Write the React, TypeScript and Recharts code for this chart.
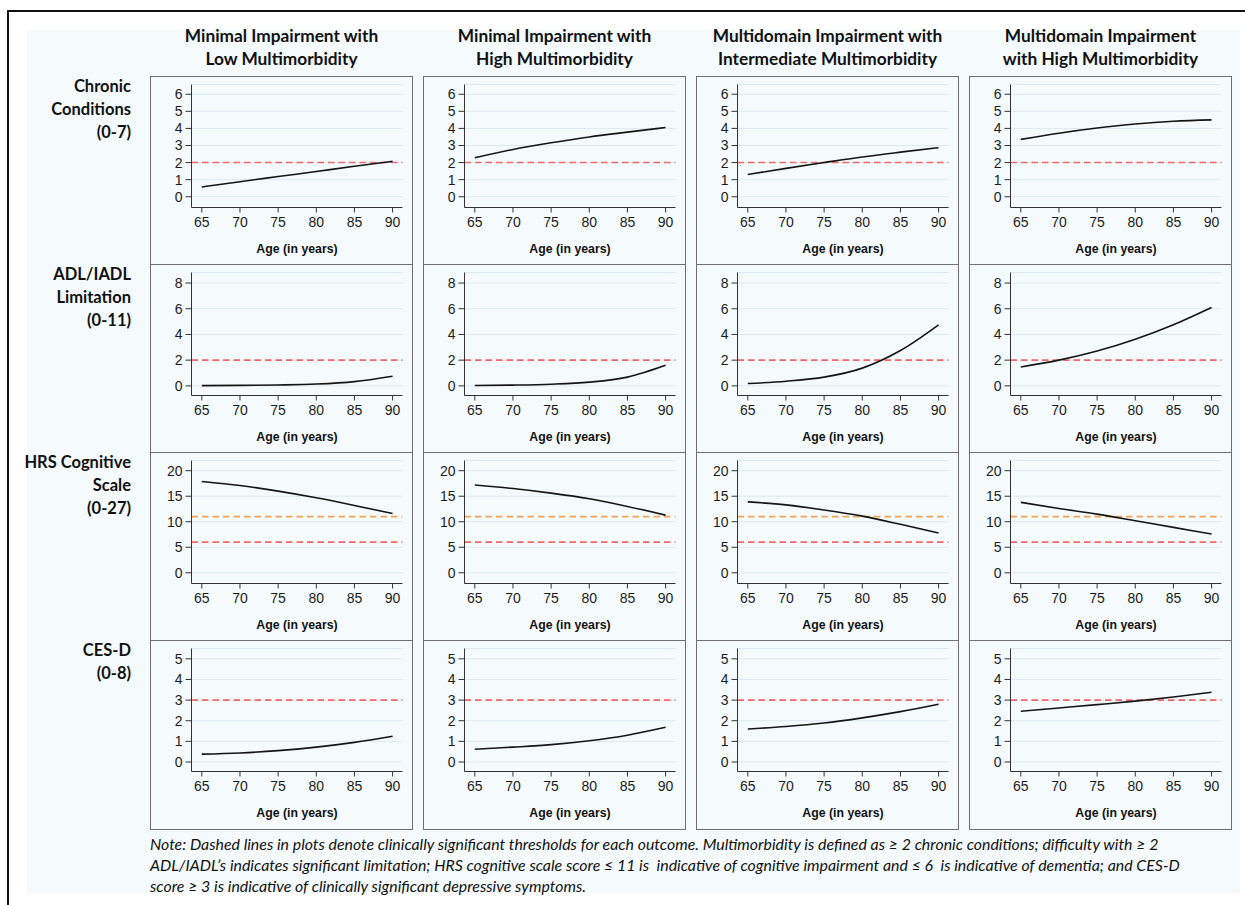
import React from 'react';
import {
  LineChart,
  Line,
  XAxis,
  YAxis,
  CartesianGrid,
  ReferenceLine,
} from 'recharts';

// ---------------------------------------------------------------------------
// Data
// ---------------------------------------------------------------------------

const AGES = [65, 70, 75, 80, 85, 90];
const AGE_TICKS = [65, 70, 75, 80, 85, 90];

const COLUMN_TITLES = [
  ['Minimal Impairment with', 'Low Multimorbidity'],
  ['Minimal Impairment with', 'High Multimorbidity'],
  ['Multidomain Impairment with', 'Intermediate Multimorbidity'],
  ['Multidomain Impairment', 'with High Multimorbidity'],
];

const ROW_TITLES = [
  ['Chronic', 'Conditions', '(0-7)'],
  ['ADL/IADL', 'Limitation', '(0-11)'],
  ['HRS Cognitive', 'Scale', '(0-27)'],
  ['CES-D', '(0-8)'],
];

// one list per column (class), values at AGES
const CHRONIC = [
  [0.57, 0.88, 1.18, 1.48, 1.78, 2.07],
  [2.28, 2.77, 3.16, 3.5, 3.78, 4.05],
  [1.3, 1.66, 2.0, 2.33, 2.61, 2.87],
  [3.36, 3.72, 4.02, 4.26, 4.42, 4.5],
];

const ADL = [
  [0.02, 0.04, 0.07, 0.14, 0.33, 0.75],
  [0.03, 0.06, 0.13, 0.29, 0.68, 1.6],
  [0.18, 0.36, 0.68, 1.38, 2.75, 4.75],
  [1.47, 2.0, 2.71, 3.63, 4.76, 6.1],
];

const HRS = [
  [17.9, 17.1, 16.0, 14.7, 13.2, 11.6],
  [17.2, 16.5, 15.6, 14.5, 13.0, 11.3],
  [13.9, 13.3, 12.3, 11.1, 9.5, 7.8],
  [13.8, 12.6, 11.5, 10.2, 8.9, 7.6],
];

const CESD = [
  [0.38, 0.44, 0.55, 0.72, 0.95, 1.25],
  [0.62, 0.72, 0.84, 1.03, 1.3, 1.68],
  [1.6, 1.72, 1.89, 2.14, 2.44, 2.8],
  [2.46, 2.62, 2.78, 2.95, 3.15, 3.38],
];

const CHRONIC_TICKS = [0, 1, 2, 3, 4, 5, 6];
const ADL_TICKS = [0, 2, 4, 6, 8];
const HRS_TICKS = [0, 5, 10, 15, 20];
const CESD_TICKS = [0, 1, 2, 3, 4, 5];

const CHRONIC_CUTS = [2];
const ADL_CUTS = [2];
const HRS_CUTS = [11, 6];
const CESD_CUTS = [3];

const NOTE_LINES = [
  'Note: Dashed lines in plots denote clinically significant thresholds for each outcome. Multimorbidity is defined as ≥ 2 chronic conditions; difficulty with ≥ 2',
  'ADL/IADL’s indicates significant limitation; HRS cognitive scale score ≤ 11 is  indicative of cognitive impairment and ≤ 6  is indicative of dementia; and CES-D',
  'score ≥ 3 is indicative of clinically significant depressive symptoms.',
];

// ---------------------------------------------------------------------------
// Layout / style
// ---------------------------------------------------------------------------

const ROWS = [
  { series: CHRONIC, ticks: CHRONIC_TICKS, domain: [-0.63, 6.57], cuts: CHRONIC_CUTS, yWidth: 40.5 },
  { series: ADL, ticks: ADL_TICKS, domain: [-0.75, 8.82], cuts: ADL_CUTS, yWidth: 40.5 },
  { series: HRS, ticks: HRS_TICKS, domain: [-2.1, 22], cuts: HRS_CUTS, yWidth: 47.5 },
  { series: CESD, ticks: CESD_TICKS, domain: [-0.46, 5.5], cuts: CESD_CUTS, yWidth: 40.5 },
];

const COL_X = [150, 423, 696, 969];
const ROW_Y = [76, 264, 452, 640];
const CELL_W = 263;
const CELL_H = 188;
const BORDER = 1.5;

const AXIS_COLOR = '#333';
const GRID_COLOR = '#dde9f1';
const PANEL_BORDER = '#6f6f6f';
const BG = '#f5fbfd';
const TICK_FONT = '"Liberation Sans", Arial, sans-serif';
const TITLE_FONT = 'Lato, "Noto Sans", sans-serif';
const TICK_SIZE = 14;

const cutColor = (v: number, cuts: number[]) =>
  cuts.length > 1 && v === cuts[0] ? '#f2a456' : '#f26767';

// tick labels drawn at the positions the axis hands us
const XTick = (props: any) => {
  const { x, y, payload } = props;
  return (
    <text
      x={x}
      y={y + 13}
      textAnchor="middle"
      fontSize={TICK_SIZE}
      fontFamily={TICK_FONT}
      fill="#1c1c1c"
    >
      {payload.value}
    </text>
  );
};

const YTick = (props: any) => {
  const { x, y, payload } = props;
  return (
    <text
      x={x}
      y={y + 5}
      textAnchor="end"
      fontSize={TICK_SIZE}
      fontFamily={TICK_FONT}
      fill="#1c1c1c"
    >
      {payload.value}
    </text>
  );
};

// ---------------------------------------------------------------------------
// Sub-components
// ---------------------------------------------------------------------------

const Panel: React.FC<{
  values: number[];
  ticks: number[];
  domain: number[];
  cuts: number[];
  yWidth: number;
}> = ({ values, ticks, domain, cuts, yWidth }) => {
  const data = AGES.map((age, i) => ({ age, v: values[i] }));
  const w = CELL_W - 2 * BORDER;
  const h = CELL_H - BORDER;
  return (
    <LineChart
      width={w}
      height={h}
      data={data}
      margin={{ top: 7.5, right: 8.5, bottom: 0, left: 40.5 - yWidth }}
    >
      <CartesianGrid horizontal vertical={false} stroke={GRID_COLOR} strokeWidth={1} />
      <XAxis
        dataKey="age"
        type="number"
        domain={[63.65, 91.3]}
        allowDataOverflow
        ticks={AGE_TICKS}
        interval={0}
        height={56}
        tickSize={5}
        tickMargin={1}
        stroke={AXIS_COLOR}
        tick={<XTick />}
        label={{
          value: 'Age (in years)',
          position: 'insideBottom',
          offset: 11,
          style: { fontSize: 12.3, fontWeight: 'bold', fill: '#111', fontFamily: TICK_FONT },
        }}
      />
      <YAxis
        type="number"
        domain={domain}
        allowDataOverflow
        ticks={ticks}
        interval={0}
        width={yWidth}
        tickSize={6}
        tickMargin={3}
        stroke={AXIS_COLOR}
        tick={<YTick />}
      />
      {cuts.map(c => (
        <ReferenceLine
          key={c}
          y={c}
          stroke={cutColor(c, cuts)}
          strokeWidth={1.6}
          strokeDasharray="6.5 4"
        />
      ))}
      <Line
        type="monotone"
        dataKey="v"
        stroke="#151515"
        strokeWidth={1.6}
        dot={false}
        isAnimationActive={false}
      />
    </LineChart>
  );
};

// ---------------------------------------------------------------------------
// Main component
// ---------------------------------------------------------------------------

const App: React.FC = () => {
  return (
    <div
      style={{
        position: 'fixed',
        left: 0,
        top: 0,
        width: 1245,
        height: 905,
        overflow: 'hidden',
        background: '#fff',
      }}
    >
      {/* outer frame */}
      <div
        style={{
          position: 'absolute',
          left: 7,
          top: 10,
          width: 1300,
          height: 1000,
          borderLeft: '2px solid #111',
          borderTop: '2px solid #111',
        }}
      />
      <div
        style={{ position: 'absolute', left: 27, top: 30, width: 1213, height: 863, background: BG }}
      />

      {/* column titles */}
      {COLUMN_TITLES.map((lines, ci) => (
        <div
          key={ci}
          style={{
            position: 'absolute',
            left: COL_X[ci] - 20,
            top: 24,
            width: CELL_W + 40,
            textAlign: 'center',
            fontFamily: TITLE_FONT,
            fontWeight: 'bold',
            fontSize: 17.3,
            lineHeight: '23px',
            color: '#111',
          }}
        >
          {lines.map(l => (
            <div key={l}>{l}</div>
          ))}
        </div>
      ))}

      {/* row titles */}
      {ROW_TITLES.map((lines, ri) => (
        <div
          key={ri}
          style={{
            position: 'absolute',
            left: 0,
            top: ROW_Y[ri] - 1,
            width: 131,
            textAlign: 'right',
            fontFamily: TITLE_FONT,
            fontWeight: 'bold',
            fontSize: 16.5,
            lineHeight: '23px',
            color: '#111',
          }}
        >
          {lines.map(l => (
            <div key={l}>{l}</div>
          ))}
        </div>
      ))}

      {/* panels */}
      {ROWS.map((row, ri) =>
        COL_X.map((x, ci) => (
          <div
            key={`${ri}-${ci}`}
            style={{
              position: 'absolute',
              left: x,
              top: ROW_Y[ri],
              width: CELL_W,
              height: CELL_H + BORDER,
              boxSizing: 'border-box',
              border: `${BORDER}px solid ${PANEL_BORDER}`,
              background: BG,
            }}
          >
            <Panel
              values={row.series[ci]}
              ticks={row.ticks}
              domain={row.domain}
              cuts={row.cuts}
              yWidth={row.yWidth}
            />
          </div>
        ))
      )}

      {/* footnote */}
      <div
        style={{
          position: 'absolute',
          left: 150,
          top: 833,
          fontFamily: TITLE_FONT,
          fontStyle: 'italic',
          fontSize: 15.9,
          lineHeight: '21px',
          color: '#111',
          whiteSpace: 'pre',
        }}
      >
        {NOTE_LINES.map(l => (
          <div key={l}>{l}</div>
        ))}
      </div>
    </div>
  );
};

export default App;
